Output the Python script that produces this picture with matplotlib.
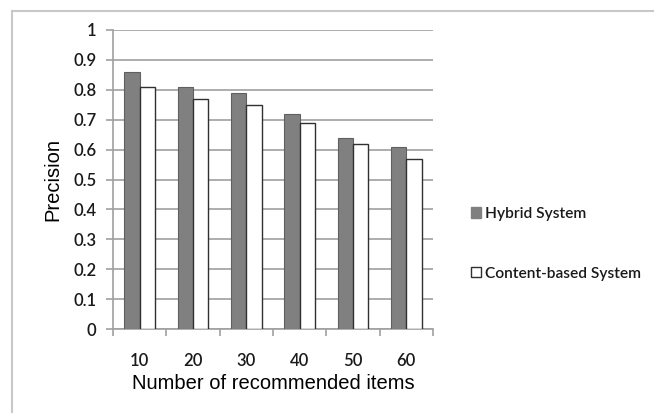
import matplotlib
matplotlib.use("Agg")
import matplotlib.pyplot as plt
import numpy as np
from matplotlib.patches import Patch
from matplotlib.lines import Line2D

categories = ["10", "20", "30", "40", "50", "60"]
hybrid = [0.86, 0.81, 0.79, 0.72, 0.64, 0.61]
content = [0.81, 0.77, 0.75, 0.69, 0.62, 0.57]
yticks = [0, 0.1, 0.2, 0.3, 0.4, 0.5, 0.6, 0.7, 0.8, 0.9, 1]
ytick_labels = ["0", "0.1", "0.2", "0.3", "0.4", "0.5", "0.6", "0.7", "0.8", "0.9", "1"]
series_names = ["Hybrid System", "Content-based System"]

W, H = 654, 413
fig = plt.figure(figsize=(W / 100, H / 100), dpi=100)
fig.patch.set_facecolor("white")

# frame lines (top and left) of the chart area
fig.add_artist(Line2D([12 / W, 1.0], [1 - 11 / H, 1 - 11 / H], color="#c8c8c8", lw=1.5, transform=fig.transFigure))
fig.add_artist(Line2D([12 / W, 12 / W], [0, 1 - 11 / H], color="#c8c8c8", lw=1.5, transform=fig.transFigure))

ax = fig.add_axes([113 / W, (H - 329) / H, 320 / W, 299 / H])
x = np.arange(len(categories))
bw = 0.29
ax.bar(x - bw / 2, hybrid, bw, color="#808080", edgecolor="#606060", linewidth=0.8, zorder=3)
ax.bar(x + bw / 2, content, bw, color="white", edgecolor="#303030", linewidth=1.0, zorder=3)

ax.set_xlim(-0.5, len(categories) - 0.5)
ax.set_ylim(0, 1)
ax.set_yticks(yticks)
ax.set_yticklabels(ytick_labels)
ax.set_xticks(x)
ax.set_xticklabels(categories)
ax.set_xticks(np.arange(-0.5, len(categories)), minor=True)
ax.tick_params(axis="x", which="major", length=0, pad=17)
ax.tick_params(axis="x", which="minor", length=5, width=1.2, color="#a0a0a0", direction="out")
ax.tick_params(axis="y", length=5, width=1.2, color="#a0a0a0", direction="out", pad=7)
ax.yaxis.grid(True, color="#a0a0a0", lw=1.2, zorder=0)
ax.set_axisbelow(True)
for s in ["top", "right"]:
    ax.spines[s].set_visible(False)
for s in ["left", "bottom"]:
    ax.spines[s].set_color("#a0a0a0")
    ax.spines[s].set_linewidth(1.2)

tick_family = ["Lato", "DejaVu Sans"]
for lab in ax.get_xticklabels() + ax.get_yticklabels():
    lab.set_fontfamily(tick_family)
    lab.set_fontsize(12)
    lab.set_color("#1a1a1a")
    lab.set_fontweight("semibold")

ax.set_ylabel("Precision", fontsize=14.5, family=["Liberation Sans"], labelpad=8)
ax.set_xlabel("Number of recommended items", fontsize=14.5, family=["Liberation Sans"], labelpad=4)

handles = [Patch(facecolor="#808080", edgecolor="#808080"),
           Patch(facecolor="white", edgecolor="#303030", linewidth=1.0)]
leg = fig.legend(handles, series_names, loc="upper left", bbox_to_anchor=(471 / W, 1 - 207 / H),
                 frameon=False, prop={"family": tick_family, "size": 11.2, "weight": "semibold"},
                 handlelength=0.62, handleheight=0.62, handletextpad=0.3, labelspacing=2.95,
                 borderpad=0, borderaxespad=0)
for t in leg.get_texts():
    t.set_color("#1a1a1a")

fig.savefig("out.png", dpi=100, facecolor="white")
